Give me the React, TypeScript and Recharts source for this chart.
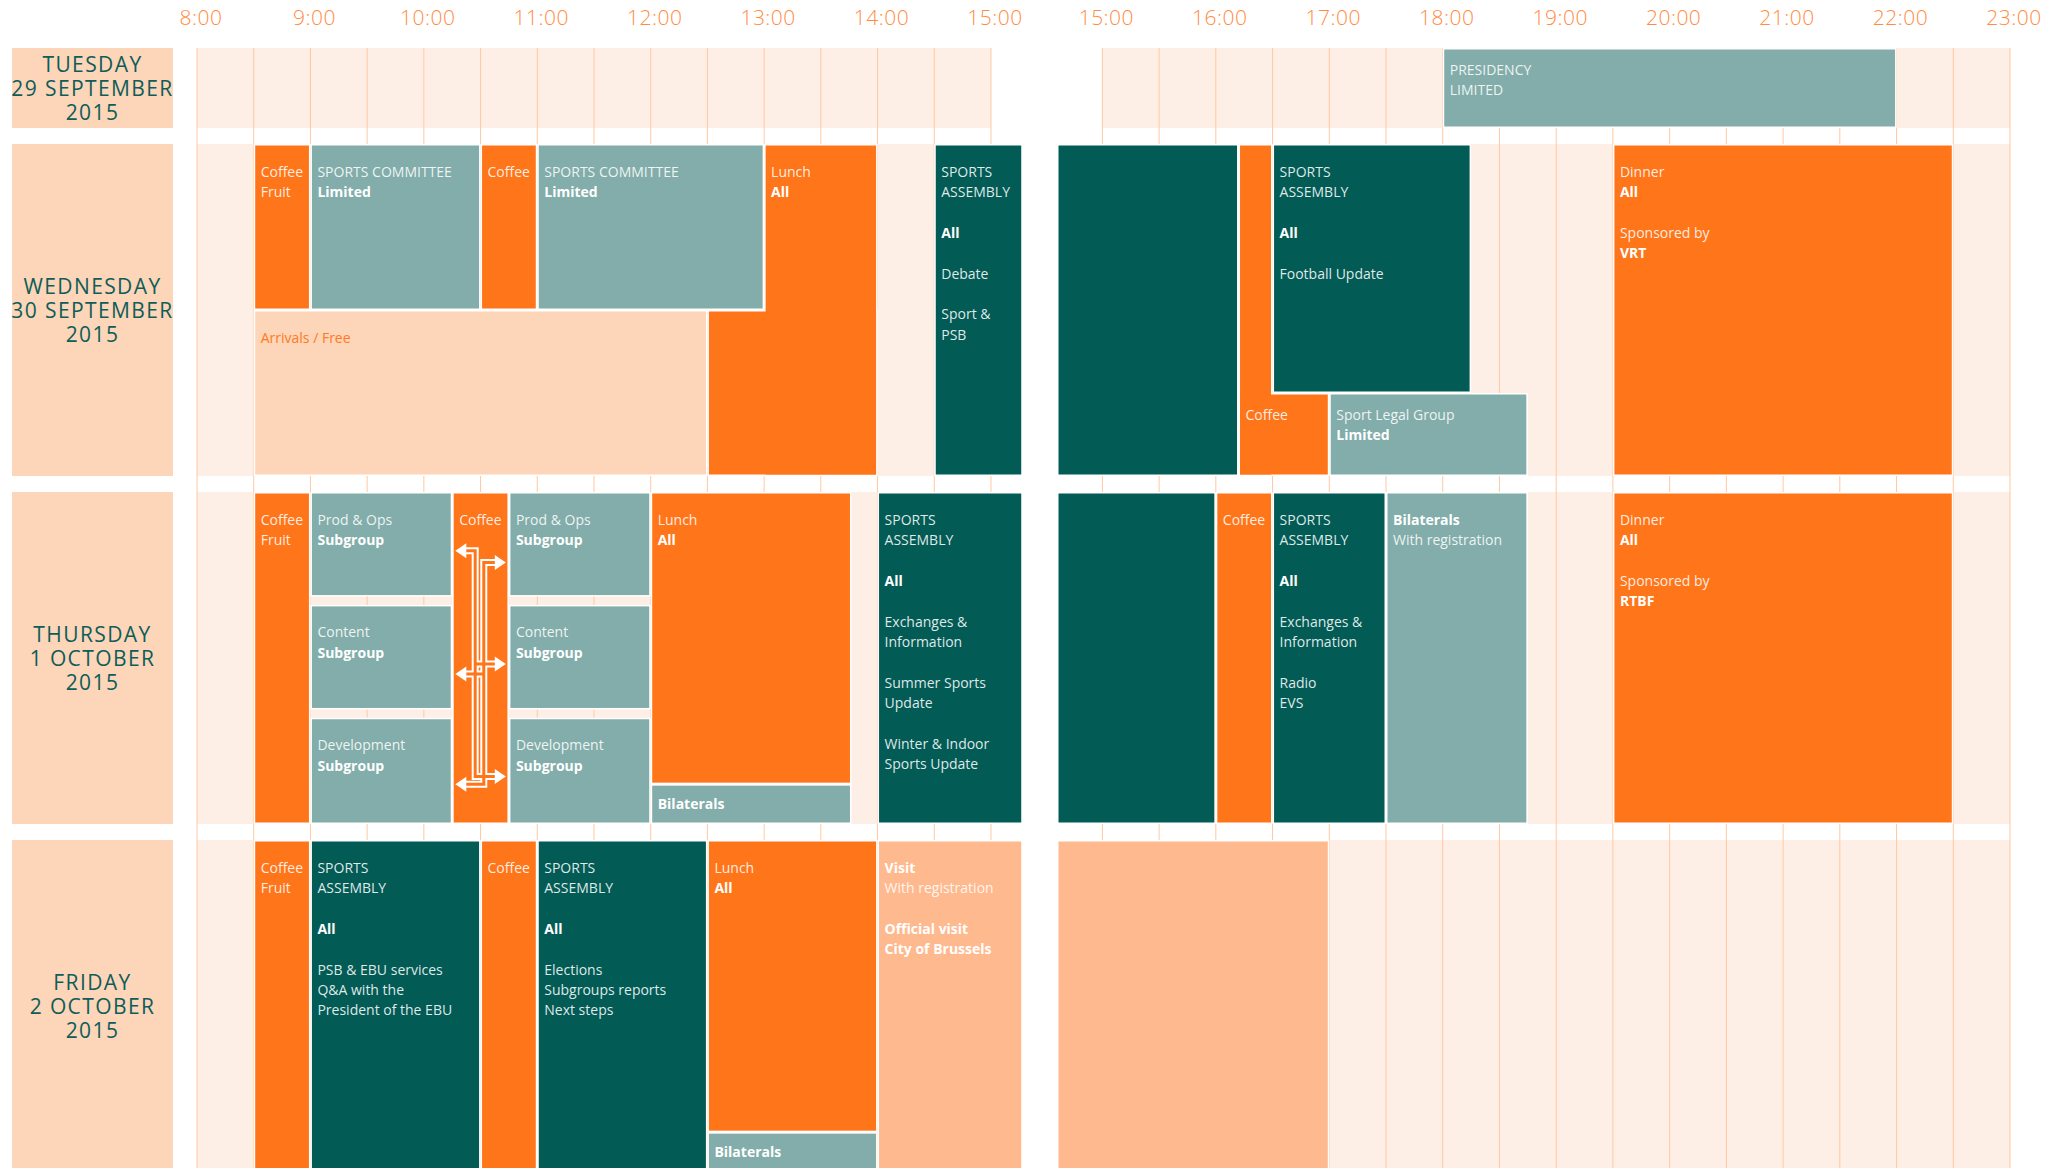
import React from 'react';
import { ComposedChart, XAxis, YAxis, ReferenceArea, ReferenceLine } from 'recharts';

// Day labels, top to bottom
const DAY_LABELS = [
  ['TUESDAY', '29 SEPTEMBER', '2015'],
  ['WEDNESDAY', '30 SEPTEMBER', '2015'],
  ['THURSDAY', '1 OCTOBER', '2015'],
  ['FRIDAY', '2 OCTOBER', '2015'],
];

// Hour ticks of the two halves of the day
const MORNING_HOURS = [8, 9, 10, 11, 12, 13, 14, 15];
const EVENING_HOURS = [15, 16, 17, 18, 19, 20, 21, 22, 23];

type Session = {
  day: number;
  from: number;
  to: number;
  top: number; // share of the day row, 0 = top
  bottom: number;
  kind: string;
  lines: string[]; // '*' = bold line
  arrows?: boolean;
};

const s = (day: number, from: number, to: number, top: number, bottom: number, kind: string, lines: string[], arrows = false): Session =>
  ({ day, from, to, top, bottom, kind, lines, arrows });

const WED_AM = [
  s(1, 8.5, 9, 0, 0.5, 'orange', ['Coffee', 'Fruit']),
  s(1, 9, 10.5, 0, 0.5, 'grey', ['SPORTS COMMITTEE', '*Limited']),
  s(1, 10.5, 11, 0, 0.5, 'orange', ['Coffee']),
  s(1, 11, 13, 0, 0.5, 'grey', ['SPORTS COMMITTEE', '*Limited']),
  s(1, 8.5, 12.5, 0.5, 1, 'free', ['Arrivals / Free']),
  s(1, 13, 14, 0, 1, 'orange', ['Lunch', '*All']),
  s(1, 12.5, 14, 0.5, 1, 'orange', []),
  s(1, 14.5, 15.28, 0, 1, 'dark', ['SPORTS', 'ASSEMBLY', '', '*All', '', 'Debate', '', 'Sport &', 'PSB']),
];

const THU_AM = [
  s(2, 8.5, 9, 0, 1, 'orange', ['Coffee', 'Fruit']),
  s(2, 9, 10.25, 0, 0.315, 'grey', ['Prod & Ops', '*Subgroup']),
  s(2, 9, 10.25, 0.34, 0.655, 'grey', ['Content', '*Subgroup']),
  s(2, 9, 10.25, 0.68, 1, 'grey', ['Development', '*Subgroup']),
  s(2, 10.25, 10.75, 0, 1, 'orange', ['Coffee'], true),
  s(2, 10.75, 12, 0, 0.315, 'grey', ['Prod & Ops', '*Subgroup']),
  s(2, 10.75, 12, 0.34, 0.655, 'grey', ['Content', '*Subgroup']),
  s(2, 10.75, 12, 0.68, 1, 'grey', ['Development', '*Subgroup']),
  s(2, 12, 13.77, 0, 0.88, 'orange', ['Lunch', '*All']),
  s(2, 12, 13.77, 0.88, 1, 'grey', ['*Bilaterals']),
  s(2, 14, 15.28, 0, 1, 'dark', ['SPORTS', 'ASSEMBLY', '', '*All', '', 'Exchanges &', 'Information', '', 'Summer Sports', 'Update', '', 'Winter & Indoor', 'Sports Update']),
];

const FRI_AM = [
  s(3, 8.5, 9, 0, 1, 'orange', ['Coffee', 'Fruit']),
  s(3, 9, 10.5, 0, 1, 'dark', ['SPORTS', 'ASSEMBLY', '', '*All', '', 'PSB & EBU services', 'Q&A with the', 'President of the EBU']),
  s(3, 10.5, 11, 0, 1, 'orange', ['Coffee']),
  s(3, 11, 12.5, 0, 1, 'dark', ['SPORTS', 'ASSEMBLY', '', '*All', '', 'Elections', 'Subgroups reports', 'Next steps']),
  s(3, 12.5, 14, 0, 0.88, 'orange', ['Lunch', '*All']),
  s(3, 12.5, 14, 0.88, 1, 'grey', ['*Bilaterals']),
  s(3, 14, 15.28, 0, 1, 'visit', ['*Visit', 'With registration', '', '*Official visit', '*City of Brussels']),
];

const TUE_PM = [
  s(0, 18, 22, 0, 1, 'grey', ['PRESIDENCY', 'LIMITED']),
];

const WED_PM = [
  s(1, 14.6, 16.2, 0, 1, 'dark', []),
  s(1, 16.2, 16.5, 0, 1, 'orange', []),
  s(1, 16.2, 17, 0.75, 1, 'orange', ['Coffee']),
  s(1, 16.5, 18.25, 0, 0.75, 'dark', ['SPORTS', 'ASSEMBLY', '', '*All', '', 'Football Update']),
  s(1, 17, 18.75, 0.75, 1, 'grey', ['Sport Legal Group', '*Limited']),
  s(1, 19.5, 22.5, 0, 1, 'orange', ['Dinner', '*All', '', 'Sponsored by', '*VRT']),
];

const THU_PM = [
  s(2, 14.6, 16, 0, 1, 'dark', []),
  s(2, 16, 16.5, 0, 1, 'orange', ['Coffee']),
  s(2, 16.5, 17.5, 0, 1, 'dark', ['SPORTS', 'ASSEMBLY', '', '*All', '', 'Exchanges &', 'Information', '', 'Radio', 'EVS']),
  s(2, 17.5, 18.75, 0, 1, 'grey', ['*Bilaterals', 'With registration']),
  s(2, 19.5, 22.5, 0, 1, 'orange', ['Dinner', '*All', '', 'Sponsored by', '*RTBF']),
];

const FRI_PM = [
  s(3, 14.6, 17, 0, 1, 'visit', []),
];

const FILL: Record<string, string> = {
  orange: '#FF751A',
  grey: '#82ADAA',
  dark: '#035B56',
  free: '#FDD5B9',
  visit: '#FFB98E',
};
const BAND = '#FEEFE6';
const GRID = '#FFC8A2';
const FONT = '"Open Sans", "Noto Sans", sans-serif';

// row layout (y units)
const ROW_SPAN = [1, 4.15, 4.15, 4.15];
const ROW_GAP = 0.2;
const ROW_TOP = ROW_SPAN.map((_, i) => ROW_SPAN.slice(0, i).reduce((a, b) => a + b + ROW_GAP, 0));
const Y_TOTAL = ROW_TOP[3] + ROW_SPAN[3];
const ROW_CENTERS = ROW_TOP.map((t, i) => t + ROW_SPAN[i] / 2);

const AXIS_H = 48;
const PLOT_H = 1124;
const CHART_H = AXIS_H + PLOT_H;
const PX_PER_UNIT = PLOT_H / Y_TOTAL;

const TimeTick = (p: any) => (
  <text x={p.x + 4} y={p.y} textAnchor="middle" fontFamily={FONT} fontWeight={300} fontSize={21} letterSpacing={0.5} fill="#FF8C42">
    {`${p.payload.value}:00`}
  </text>
);

const DayTick = (p: any) => {
  const i = ROW_CENTERS.findIndex(c => Math.abs(c - p.payload.value) < 1e-6);
  if (i < 0) return <g />;
  const h = ROW_SPAN[i] * PX_PER_UNIT;
  const lines = DAY_LABELS[i];
  return (
    <g>
      <rect x={12} y={p.y - h / 2} width={161} height={h} fill="#FDD5B9" />
      {lines.map((l, k) => (
        <text key={k} x={92.5} y={p.y + (k - 1) * 24 + 7.5} textAnchor="middle"
          fontFamily={FONT} fontSize={21} letterSpacing={1.4} fill="#0D5D58">{l}</text>
      ))}
    </g>
  );
};

const arrowPaths = (x: number, y: number, w: number, h: number) => {
  const tl = x + 0.03 * w, tr = x + 0.97 * w, a = x + 0.4 * w, b = x + 0.56 * w;
  const Y = (f: number) => y + f * h;
  const pipes = [
    `M${tl + 10},${Y(0.174)} H${a} V${Y(0.86)} H${tr - 10} M${a},${Y(0.518)} H${tr - 10}`,
    `M${tr - 10},${Y(0.21)} H${b} V${Y(0.884)} H${tl + 10} M${b},${Y(0.549)} H${tl + 10}`,
  ];
  const heads: string[] = [];
  [0.174, 0.549, 0.884].forEach(f => heads.push(`M${tl},${Y(f)} L${tl + 11},${Y(f) - 7.5} L${tl + 11},${Y(f) + 7.5} Z`));
  [0.21, 0.518, 0.86].forEach(f => heads.push(`M${tr},${Y(f)} L${tr - 11},${Y(f) - 7.5} L${tr - 11},${Y(f) + 7.5} Z`));
  return (
    <g>
      {pipes.map((d, k) => <path key={`w${k}`} d={d} fill="none" stroke="#fff" strokeWidth={7} />)}
      {pipes.map((d, k) => <path key={`o${k}`} d={d} fill="none" stroke={FILL.orange} strokeWidth={3} />)}
      {heads.map((d, k) => <path key={`h${k}`} d={d} fill="#fff" />)}
    </g>
  );
};

const blockShape = (ev: Session) => (p: any) => {
  const x = p.x + 1.5, y = p.y + 1.5, w = Math.max(0, p.width - 3), h = Math.max(0, p.height - 3);
  const lineH = 20.4;
  const base = h < 50 ? y + h / 2 + 5 : h < 100 ? y + 25.5 : y + 31;
  const light = ev.kind === 'free';
  return (
    <g>
      <rect x={x} y={y} width={w} height={h} fill={FILL[ev.kind]} />
      {ev.arrows && arrowPaths(x, y, w, h)}
      {ev.lines.map((l, k) => {
        if (!l) return null;
        const bold = l.startsWith('*');
        return (
          <text key={k} x={x + 5.5} y={base + k * lineH} fontFamily={FONT} fontSize={14}
            fontWeight={bold ? 700 : 400}
            fill={light ? '#FF7A22' : bold ? '#FFFFFF' : 'rgba(255,255,255,0.88)'}>
            {bold ? l.slice(1) : l}
          </text>
        );
      })}
    </g>
  );
};

type PanelProps = {
  left: number; width: number; padRight: number; domain: [number, number];
  hours: number[]; sessions: Session[]; showDays: boolean;
};

const Panel = ({ left, width, padRight, domain, hours, sessions, showDays }: PanelProps) => {
  const first = hours[0];
  const last = hours[hours.length - 1];
  const grid: number[] = [];
  for (let t = first; t <= last; t += 0.5) grid.push(t);
  const yOf = (ev: Session, f: number) => ROW_TOP[ev.day] + f * ROW_SPAN[ev.day];
  const axisRows = hours.map(h => ({ hour: h }));
  return (
    <div style={{ position: 'absolute', left, top: 0 }}>
      <ComposedChart width={width + padRight} height={CHART_H} data={axisRows} margin={{ top: 0, right: padRight, bottom: 0, left: 0 }}>
        <XAxis dataKey="hour" type="number" orientation="top" domain={domain} ticks={hours} interval={0} height={AXIS_H}
          axisLine={false} tickLine={false} tickSize={0} tickMargin={23} allowDataOverflow tick={TimeTick} />
        <YAxis type="number" domain={[0, Y_TOTAL]} reversed allowDataOverflow hide={!showDays} width={showDays ? 197 : 0}
          ticks={ROW_CENTERS} interval={0} axisLine={false} tickLine={false} tick={DayTick} />
        {ROW_TOP.map((t, i) => (
          <ReferenceArea key={`band${i}`} x1={first} x2={last} y1={t} y2={t + ROW_SPAN[i]} fill={BAND} fillOpacity={1}
            stroke="none" ifOverflow="visible" zIndex={10} />
        ))}
        {grid.map(t => (
          <ReferenceLine key={`g${t}`} x={t} stroke={GRID} strokeWidth={1} ifOverflow="visible" zIndex={20} />
        ))}
        {sessions.map((ev, i) => (
          <ReferenceArea key={`bg${i}`} x1={ev.from} x2={ev.to} y1={yOf(ev, ev.top)} y2={yOf(ev, ev.bottom)}
            fill="#FFFFFF" fillOpacity={1} stroke="none" ifOverflow="visible" zIndex={30} />
        ))}
        {sessions.map((ev, i) => (
          <ReferenceArea key={`ev${i}`} x1={ev.from} x2={ev.to} y1={yOf(ev, ev.top)} y2={yOf(ev, ev.bottom)}
            ifOverflow="visible" zIndex={40} shape={blockShape(ev)} />
        ))}
      </ComposedChart>
    </div>
  );
}

export default function App() {
  return (
    <div style={{ position: 'absolute', left: 0, top: 0, width: 2070, height: 1168, overflow: 'hidden', background: '#fff' }}>
      <Panel left={0} width={1025} padRight={0} domain={[8, 15.3]} hours={MORNING_HOURS}
        sessions={[...WED_AM, ...THU_AM, ...FRI_AM]} showDays />
      <Panel left={1057} width={953} padRight={45} domain={[14.6, 23]} hours={EVENING_HOURS}
        sessions={[...TUE_PM, ...WED_PM, ...THU_PM, ...FRI_PM]} showDays={false} />
    </div>
  );
}
